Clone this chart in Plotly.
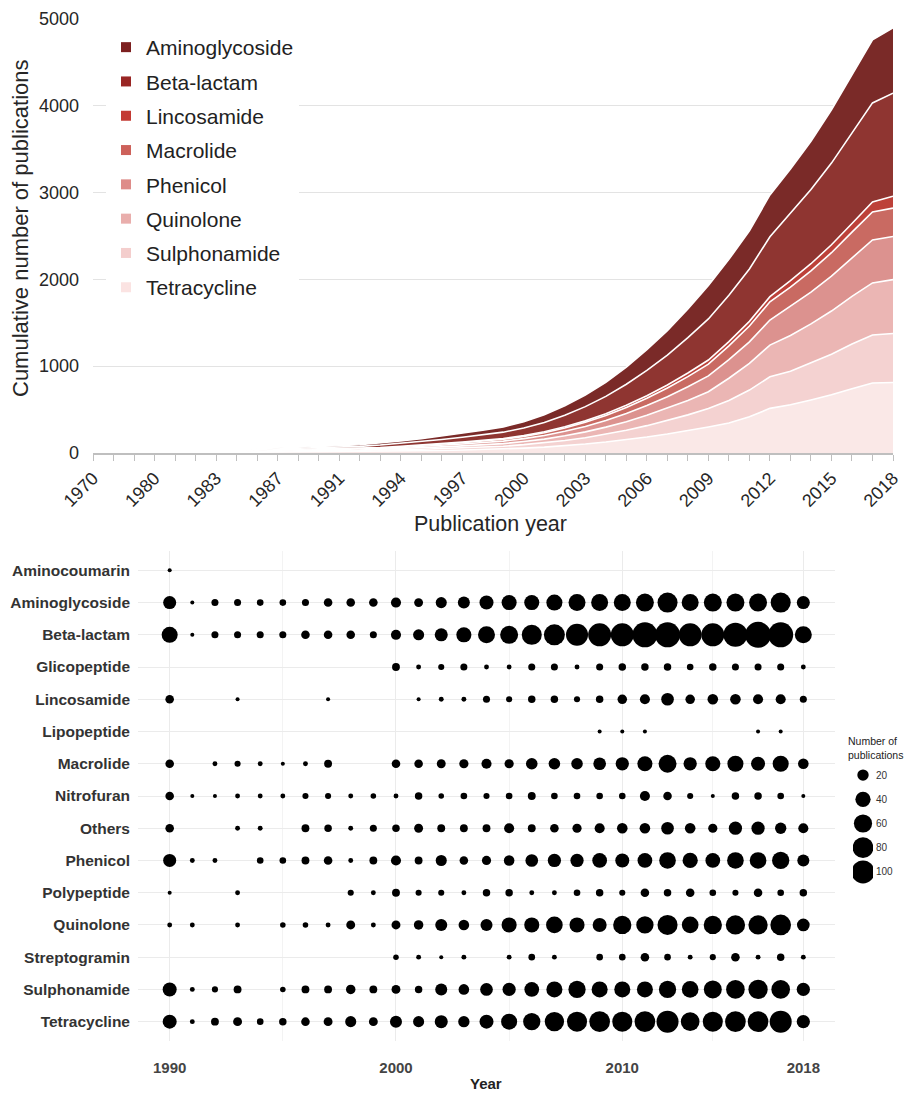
import math
import plotly.graph_objects as go

# ---------------- Top chart: cumulative publications ----------------
years_top = ["1970", "1975", "1978", "1980", "1981", "1982", "1983", "1984", "1985", "1987",
             "1988", "1990", "1991", "1992", "1993", "1994", "1995", "1996", "1997", "1998",
             "1999", "2000", "2001", "2002", "2003", "2004", "2005", "2006", "2007", "2008",
             "2009", "2010", "2011", "2012", "2013", "2014", "2015", "2016", "2017", "2018"]
top_tick_labels = ["1970", "1980", "1983", "1987", "1991", "1994", "1997", "2000", "2003",
                   "2006", "2009", "2012", "2015", "2018"]

tetracycline_cum = [0] * 8 + [10, 12, 12, 13, 14, 15, 17, 22, 25, 29, 34, 41, 45, 56, 68, 83, 103, 126,
                              153, 184, 219, 256, 300, 346, 418, 514, 556, 611, 671, 741, 806, 812]
sulphonamide_cum = [0] * 8 + [8, 9, 9, 10, 10, 10, 13, 15, 18, 21, 25, 29, 33, 40, 48, 60, 73, 90,
                              109, 131, 155, 183, 212, 259, 307, 363, 386, 424, 466, 514, 553, 565]
quinolone_cum = [0] * 8 + [6, 7, 7, 7, 8, 10, 12, 14, 17, 20, 23, 26, 30, 36, 44, 55, 67, 82,
                           99, 119, 141, 166, 193, 256, 307, 366, 412, 452, 498, 549, 600, 620]
phenicol_cum = [0] * 8 + [5, 6, 6, 7, 8, 9, 11, 13, 16, 19, 22, 25, 29, 34, 42, 52, 63, 77,
                          94, 113, 134, 158, 183, 214, 248, 288, 334, 366, 403, 444, 495, 497]
macrolide_cum = [0] * 8 + [3, 3, 4, 4, 6, 7, 8, 10, 12, 14, 16, 18, 21, 25, 31, 38, 47, 57,
                           69, 83, 99, 116, 135, 158, 182, 211, 222, 244, 269, 296, 323, 326]
lincosamide_cum = [0] * 8 + [1, 1, 1, 2, 2, 2, 3, 4, 4, 5, 6, 7, 8, 9, 11, 14, 17, 20,
                             25, 30, 35, 42, 48, 49, 54, 59, 75, 83, 91, 100, 115, 138]
betalactam_cum = [0] * 8 + [8, 10, 11, 13, 20, 23, 28, 34, 40, 48, 56, 64, 74, 88, 108, 134, 164, 200,
                            243, 292, 345, 407, 473, 535, 604, 690, 778, 854, 941, 1036, 1140, 1187]
aminoglycoside_cum = [0] * 8 + [8, 10, 11, 12, 16, 19, 23, 28, 33, 39, 46, 52, 60, 72, 88, 109, 134, 163,
                                198, 238, 282, 332, 386, 413, 440, 481, 507, 556, 613, 675, 726, 751]

# stacking order bottom -> top: (name, values, fill colour, legend swatch colour)
top_series = [
    ("Tetracycline", tetracycline_cum, "#fae8e7", "#fbe3e2"),
    ("Sulphonamide", sulphonamide_cum, "#f4d2d1", "#f4cecd"),
    ("Quinolone", quinolone_cum, "#ebb6b4", "#e9aeac"),
    ("Phenicol", phenicol_cum, "#dc928f", "#de8c89"),
    ("Macrolide", macrolide_cum, "#c96a62", "#cd615a"),
    ("Lincosamide", lincosamide_cum, "#bd4139", "#c33a33"),
    ("Beta-lactam", betalactam_cum, "#8f3531", "#992624"),
    ("Aminoglycoside", aminoglycoside_cum, "#7a2a28", "#7c1f1f"),
]

# ---------------- Bottom chart: publications per year ----------------
years_bottom = list(range(1990, 2019))
categories = ["Aminocoumarin", "Aminoglycoside", "Beta-lactam", "Glicopeptide", "Lincosamide",
              "Lipopeptide", "Macrolide", "Nitrofuran", "Others", "Phenicol", "Polypeptide",
              "Quinolone", "Streptogramin", "Sulphonamide", "Tetracycline"]
N = None
aminocoumarin = [1] + [N] * 28
aminoglycoside = [28, 1, 6, 6, 5, 5, 6, 10, 10, 10, 15, 11, 19, 23, 33, 39, 39, 45, 51, 51,
                  51, 58, 74, 51, 58, 58, 58, 74, 28]
beta_lactam = [45, 1, 6, 6, 6, 6, 10, 10, 10, 6, 15, 19, 28, 39, 51, 58, 74, 82, 91, 100,
               100, 120, 120, 100, 100, 110, 130, 120, 51]
glicopeptide = [N] * 10 + [8, 2, 4, 6, 2, 2, 6, 6, 2, 6, 7, 7, 7, 5, 7, 6, 6, 6, 2]
lincosamide = [10, N, N, 1, N, N, N, 1, N, N, N, 1, 2, 2, 6, 4, 7, 7, 4, 7,
               13, 15, 26, 13, 17, 17, 15, 15, 6]
lipopeptide = [N] * 19 + [1, 1, 1, N, N, N, N, 1, 1, N]
macrolide = [10, N, 2, 4, 2, 1, 2, 8, N, N, 10, 10, 11, 12, 15, 12, 21, 21, 21, 26,
             29, 39, 58, 29, 39, 45, 33, 45, 17]
nitrofuran = [10, 1, 1, 2, 2, 2, 4, 4, 2, 3, 2, 7, 3, 5, 4, 5, 8, 5, 5, 5,
              5, 15, 10, 4, 1, 7, 7, 5, 1]
others = [10, N, N, 2, 2, N, 8, 7, 2, 6, 7, 11, 8, 8, 8, 15, 8, 10, 12, 15,
          17, 17, 26, 17, 12, 29, 29, 20, 15]
phenicol = [28, 2, 2, N, 5, 5, 8, 10, 2, 8, 15, 8, 19, 10, 12, 17, 26, 29, 29, 37,
            33, 37, 49, 40, 37, 49, 49, 53, 23]
polypeptide = [1, N, N, 2, N, N, N, N, 4, 2, 8, 4, 4, 2, 7, 7, 2, 2, 5, 7,
               4, 10, 7, 10, 5, 4, 10, 5, 7]
quinolone = [2, 2, N, 2, N, 3, 3, 2, 11, 2, 11, 13, 23, 17, 23, 39, 39, 49, 39, 33,
             60, 53, 74, 49, 60, 68, 68, 79, 26]
streptogramin = [N] * 10 + [3, 2, 1, 2, N, 2, 5, 2, N, 5, 5, 10, 5, 2, 4, 10, 2, 7, 2]
sulphonamide = [33, 2, 4, 8, N, 3, 8, 8, 13, 8, 11, 7, 23, 17, 26, 29, 37, 45, 53, 45,
                45, 45, 53, 49, 58, 63, 68, 63, 29]
tetracycline = [33, 2, 8, 11, 5, 7, 10, 11, 19, 11, 23, 19, 28, 20, 33, 45, 53, 68, 74, 79,
                74, 79, 91, 63, 74, 79, 79, 91, 29]
bottom_values = [aminocoumarin, aminoglycoside, beta_lactam, glicopeptide, lincosamide,
                 lipopeptide, macrolide, nitrofuran, others, phenicol, polypeptide,
                 quinolone, streptogramin, sulphonamide, tetracycline]
size_legend_values = [20, 40, 60, 80, 100]
bottom_x_ticks = [1990, 2000, 2010, 2018]
bottom_x_minor = [1995, 2005, 2014]


def size_scale(n):
    # ggplot-like sqrt size scale: diameter in px
    return 1.9 + 2.11 * math.sqrt(n)


# page has an 8px body margin; figure fills the rest of the 916x1093 window
OFF = 8
W, H = 916 - OFF, 1093 - OFF


def px(x):
    return (x - OFF) / W


def py(y):
    return 1 - (y - OFF) / H


fig = go.Figure()

# --- top stacked areas
for name, vals, col, _ in top_series:
    fig.add_trace(go.Scatter(
        x=years_top, y=vals, name=name, mode="lines", stackgroup="one",
        line=dict(color="white", width=1.6), fillcolor=col, showlegend=False,
        hoverinfo="x+y+name", xaxis="x", yaxis="y"))
# legend entries (square markers), Aminoglycoside first
for name, vals, _, lcol in reversed(top_series):
    fig.add_trace(go.Scatter(
        x=[None], y=[None], mode="markers", name=name, legendgroup=name,
        marker=dict(symbol="square", size=10, color=lcol),
        showlegend=True, xaxis="x", yaxis="y"))

# --- bottom dot plot
bx, by, bs = [], [], []
for cat, vals in zip(categories, bottom_values):
    for yr, v in zip(years_bottom, vals):
        if v is not None:
            bx.append(yr)
            by.append(cat)
            bs.append(size_scale(v))
fig.add_trace(go.Scatter(
    x=bx, y=by, mode="markers", showlegend=False,
    marker=dict(color="black", size=bs, opacity=1, line=dict(width=0)),
    xaxis="x2", yaxis="y2"))

# --- size legend
fig.add_trace(go.Scatter(
    x=[0] * len(size_legend_values), y=[str(v) for v in size_legend_values], mode="markers",
    showlegend=False, marker=dict(color="black", opacity=1,
                                  size=[size_scale(v) for v in size_legend_values],
                                  line=dict(width=0)),
    xaxis="x3", yaxis="y3", hoverinfo="skip"))

tick_text_top = [y if y in top_tick_labels else "" for y in years_top]

fig.update_layout(
    width=W, height=H, margin=dict(l=0, r=0, t=0, b=0, autoexpand=False),
    paper_bgcolor="white", plot_bgcolor="white",
    font=dict(family="Arial, Liberation Sans, sans-serif", color="#262626"),
    xaxis=dict(domain=[px(93), px(893)], type="category", range=[0, 39],
               tickmode="array", tickvals=years_top, ticktext=tick_text_top,
               tickangle=-45, tickfont=dict(size=18, color="#262626"),
               ticks="outside", ticklen=6, tickcolor="#bfbfbf", tickwidth=1,
               showline=True, linecolor="#bfbfbf", linewidth=1.5,
               showgrid=False, zeroline=False, anchor="y", automargin=False),
    yaxis=dict(domain=[py(453), py(18)], range=[0, 5010], tickvals=[0, 1000, 2000, 3000, 4000, 5000],
               tickfont=dict(size=18, color="#262626"), showgrid=True, gridcolor="#e3e3e3",
               gridwidth=1.3, zeroline=False, showline=False, ticks="", ticklabelstandoff=13,
               anchor="x", automargin=False),
    xaxis2=dict(domain=[px(138), px(835)], range=[1988.6, 2019.4], tickvals=bottom_x_ticks,
                tickfont=dict(size=15, color="#444444", weight="bold"),
                showgrid=True, gridcolor="#ebebeb", gridwidth=1.1, zeroline=False, showline=False,
                ticks="", ticklabelstandoff=16,
                minor=dict(tickvals=bottom_x_minor, showgrid=True, gridcolor="#f3f3f3", gridwidth=0.8),
                anchor="y2", automargin=False),
    yaxis2=dict(domain=[py(1041), py(551)], type="category", categoryorder="array",
                categoryarray=categories, range=[14.6, -0.6],
                tickfont=dict(size=15.5, color="#333333", weight="bold"),
                showgrid=True, gridcolor="#ebebeb", gridwidth=1.1, zeroline=False, showline=False,
                ticks="", ticklabelstandoff=7, anchor="x2", automargin=False),
    xaxis3=dict(domain=[px(853), px(873)], range=[-1, 1], visible=False, anchor="y3",
                automargin=False),
    yaxis3=dict(domain=[py(884), py(763)], type="category", categoryorder="array",
                categoryarray=[str(v) for v in size_legend_values], range=[4.5, -0.5],
                side="right", showgrid=False, zeroline=False, showline=False, ticks="",
                tickfont=dict(size=10, color="#333333"), ticklabelstandoff=2, anchor="x3",
                automargin=False),
    legend=dict(x=px(106), y=py(27), xanchor="left", yanchor="top", bgcolor="white",
                font=dict(size=21, color="#222222"), tracegroupgap=4, borderwidth=0),
    annotations=[
        dict(text="Cumulative number of publications", x=px(20), y=py(228), xref="paper",
             yref="paper", xanchor="center", yanchor="middle", textangle=-90, showarrow=False,
             font=dict(size=22, color="#262626")),
        dict(text="Publication year", x=px(490), y=py(524), xref="paper", yref="paper",
             xanchor="center", yanchor="middle", showarrow=False,
             font=dict(size=21.5, color="#262626")),
        dict(text="Year", x=px(486), y=py(1083), xref="paper", yref="paper", showarrow=False,
             xanchor="center", yanchor="middle",
             font=dict(size=15, color="#222222", weight="bold")),
        dict(text="Number of<br>publications", x=px(846), y=py(733), xref="paper", yref="paper",
             xanchor="left", yanchor="top", align="left", showarrow=False,
             font=dict(size=10.5, color="#222222")),
    ],
)

fig.write_html("out.html")
